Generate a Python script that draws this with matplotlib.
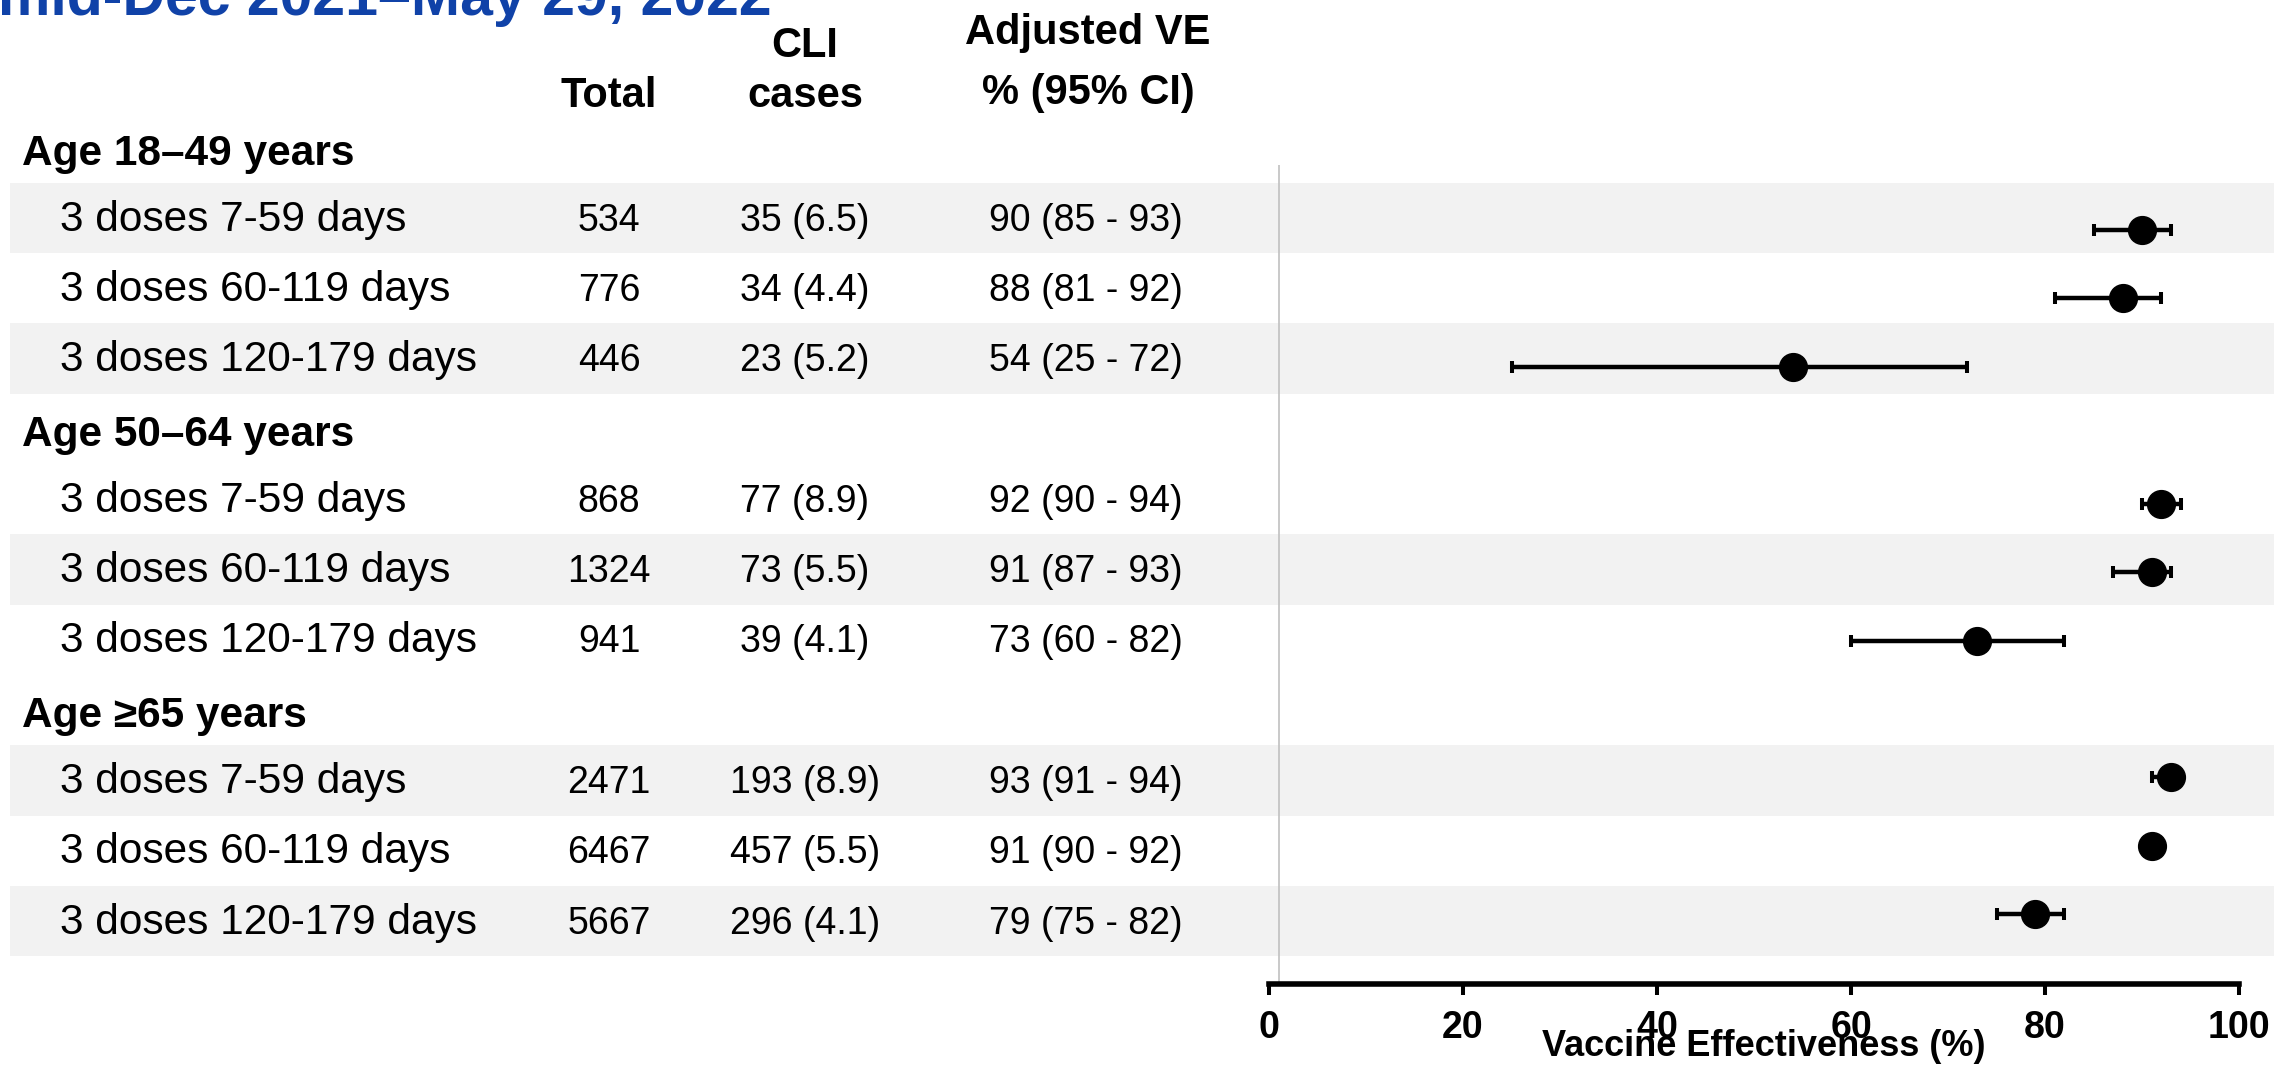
import matplotlib
matplotlib.use('Agg')
import matplotlib.pyplot as plt

plt.rcParams['font.family'] = ['Liberation Sans', 'DejaVu Sans']

# ---- data ----
groups = ['Age 18–49 years', 'Age 50–64 years', 'Age ≥65 years']
intervals = ['3 doses 7-59 days', '3 doses 60-119 days', '3 doses 120-179 days']
totals = [534, 776, 446, 868, 1324, 941, 2471, 6467, 5667]
cli_cases = [35, 34, 23, 77, 73, 39, 193, 457, 296]
cli_pct = [6.5, 4.4, 5.2, 8.9, 5.5, 4.1, 8.9, 5.5, 4.1]
ve = [90, 88, 54, 92, 91, 73, 93, 91, 79]
ve_lo = [85, 81, 25, 90, 87, 60, 91, 90, 75]
ve_hi = [93, 92, 72, 94, 93, 82, 94, 92, 82]
x_ticks = [0, 20, 40, 60, 80, 100]

W, H = 2274, 1068
fig = plt.figure(figsize=(W / 100, H / 100), dpi=100)

# row index: group header, then its three interval rows
row_y = []
head_y = []
r = 0
for g in groups:
    head_y.append(r)
    r += 1
    for _ in intervals:
        row_y.append(r)
        r += 1

# background axes for the table: x in figure fraction, y in rows
bg = fig.add_axes([0, 0, 1, 1], zorder=0)
bg.set_xlim(0, 1)
bg.set_ylim(13.09, -2.10)
bg.axis('off')

for i, y in enumerate(row_y):
    if i % 2 == 0:
        bg.axhspan(y - 0.5, y + 0.5, xmin=10 / W, xmax=1, color='#F2F2F2', lw=0)

label_fs = 30.5
num_fs = 27
for g, y in zip(groups, head_y):
    bg.text(22 / W, y + 0.24, g, fontsize=30.5, fontweight='bold',
            ha='left', va='baseline')
for i, y in enumerate(row_y):
    yb = y + 0.18
    bg.text(60 / W, yb, intervals[i % 3], fontsize=label_fs, ha='left', va='baseline')
    bg.text(609 / W, yb, str(totals[i]), fontsize=num_fs, ha='center', va='baseline')
    bg.text(805 / W, yb, f'{cli_cases[i]} ({cli_pct[i]})', fontsize=num_fs,
            ha='center', va='baseline')
    bg.text(1086 / W, yb, f'{ve[i]} ({ve_lo[i]} - {ve_hi[i]})', fontsize=num_fs,
            ha='center', va='baseline')

# column headers
hdr = dict(fontsize=30, fontweight='bold', ha='center', va='baseline')
fig.text(609 / W, 1 - 107 / H, 'Total', **hdr)
fig.text(805 / W, 1 - 57 / H, 'CLI', **hdr)
fig.text(805 / W, 1 - 107 / H, 'cases', **hdr)
fig.text(1088 / W, 1 - 44 / H, 'Adjusted VE', **hdr)
fig.text(1088 / W, 1 - 104 / H, '% (95% CI)', **hdr)

# title, partly above the top edge
fig.text(-2 / W, 1 - 15 / H, 'mid-Dec 2021–May 29, 2022', fontsize=42.5,
         fontweight='bold', color='#1042A8', ha='left', va='baseline')

# forest panel
ax_l, ax_r, ax_t, ax_b = 1269, 2239, 165, 984
ax = fig.add_axes([ax_l / W, 1 - ax_b / H, (ax_r - ax_l) / W, (ax_b - ax_t) / H],
                  zorder=1)
ax.patch.set_alpha(0)
ax.set_xlim(0, 100)
ax.set_ylim(12.02, 0.05)

ax.axvline(1, color='#C0C0C0', lw=1.2, zorder=1)

xerr = [[v - lo for v, lo in zip(ve, ve_lo)], [hi - v for v, hi in zip(ve, ve_hi)]]
ax.errorbar(ve, row_y, xerr=xerr, fmt='o', color='black', ms=20,
            elinewidth=3.2, capsize=4.6, capthick=2.9, zorder=3)

for s in ['top', 'right', 'left']:
    ax.spines[s].set_visible(False)
ax.spines['bottom'].set_linewidth(4)
ax.set_yticks([])
ax.set_xticks(x_ticks)
ax.tick_params(axis='x', direction='out', length=8, width=2.9, labelsize=27, pad=11)
for lab in ax.get_xticklabels():
    lab.set_fontweight('bold')
fig.text(1764 / W, 1 - 1056 / H, 'Vaccine Effectiveness (%)', fontsize=26,
         fontweight='bold', ha='center', va='baseline')

fig.savefig('out.png', dpi=100)
